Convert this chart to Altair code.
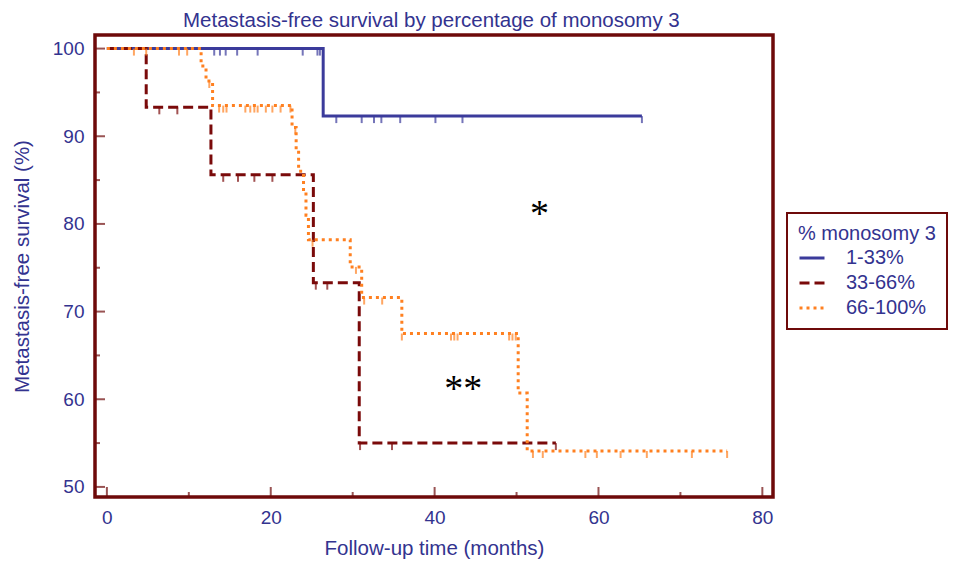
import altair as alt
import pandas as pd

# ---------------- data ----------------
GROUPS = ["1-33%", "33-66%", "66-100%"]
COLORS = ["#3b3b9b", "#7a0a0a", "#ff8020"]
DASHES = [[1, 0], [10, 5], [3, 4]]

# Kaplan-Meier step curves (time in months, survival %)
blue_t = [0, 26.4, 65.3]
blue_s = [100, 92.3, 92.3]
maroon_t = [0, 4.8, 12.7, 25.2, 30.8, 54.8]
maroon_s = [100, 93.3, 85.6, 73.3, 55.0, 55.0]
orange_t = [0, 11.5, 12.1, 12.9, 22.6, 23.1, 23.4, 24.0, 24.3, 24.6, 29.7, 31.1, 36.0, 50.2, 51.3, 75.7]
orange_s = [100, 98.0, 96.3, 93.5, 91.0, 88.5, 86.0, 83.6, 81.0, 78.2, 75.1, 71.6, 67.5, 60.7, 54.1, 54.1]

# censored observations
blue_ct = [13.1, 13.8, 14.5, 15.9, 18.4, 23.9, 25.7, 26.0,
           28.0, 31.1, 32.6, 33.5, 35.8, 40.1, 43.4, 65.3]
blue_cs = [100, 100, 100, 100, 100, 100, 100, 100,
           92.3, 92.3, 92.3, 92.3, 92.3, 92.3, 92.3, 92.3]
maroon_ct = [6.4, 8.6, 14.2, 16.0, 18.0, 20.2, 25.5, 26.9, 30.9, 34.8, 54.8]
maroon_cs = [93.3, 93.3, 85.6, 85.6, 85.6, 85.6, 73.3, 73.3, 55.0, 55.0, 55.0]
orange_ct = [3.3, 4.8, 8.8, 9.8, 12.5,
             13.7, 14.2, 14.6, 16.9, 17.5, 18.0, 18.4, 19.4, 20.2, 21.2, 22.4,
             23.0, 25.1, 30.4, 31.4, 33.6,
             36.0, 42.0, 42.4, 42.8, 49.1, 49.5, 49.9,
             52.0, 53.2, 58.4, 59.8, 62.7, 65.9, 71.4, 75.7]
orange_cs = [100, 100, 100, 100, 96.3,
             93.5, 93.5, 93.5, 93.5, 93.5, 93.5, 93.5, 93.5, 93.5, 93.5, 93.5,
             91.0, 78.2, 75.1, 71.6, 71.6,
             67.5, 67.5, 67.5, 67.5, 67.5, 67.5, 67.5,
             54.1, 54.1, 54.1, 54.1, 54.1, 54.1, 54.1, 54.1]

# annotations
note_text = ["*", "**"]
note_x = [52.8, 43.5]
note_y = [81.05, 61.05]

# axes
X_DOMAIN = [-1.45, 81.3]
Y_DOMAIN = [48.85, 101.55]
x_major = [0, 20, 40, 60, 80]
x_minor = [10, 30, 50, 70]
y_major = [50, 60, 70, 80, 90, 100]
y_minor = [55, 65, 75, 85, 95]

TITLE = "Metastasis-free survival by percentage of monosomy 3"
X_TITLE = "Follow-up time (months)"
Y_TITLE = "Metastasis-free survival (%)"
LEGEND_TITLE = "% monosomy 3"

NAVY = "#33338f"
FRAME = "#6e0a0a"
FONT = "Liberation Sans"

# ---------------- tables ----------------
rows = []
for g, ts, ss in zip(GROUPS, [blue_t, maroon_t, orange_t], [blue_s, maroon_s, orange_s]):
    for i, (t, s) in enumerate(zip(ts, ss)):
        rows.append({"group": g, "t": t, "s": s, "idx": i})
curves = pd.DataFrame(rows)

cens = [pd.DataFrame({"t": ct, "s": cs}) for ct, cs in
        [(blue_ct, blue_cs), (maroon_ct, maroon_cs), (orange_ct, orange_cs)]]

xs = alt.Scale(domain=X_DOMAIN, nice=False, zero=False)
ys = alt.Scale(domain=Y_DOMAIN, nice=False, zero=False)

legend = alt.Legend(
    title=LEGEND_TITLE, orient="none", legendX=692, legendY=178,
    symbolType="stroke", symbolSize=625, symbolStrokeWidth=3,
    labelOffset=20, rowPadding=1, padding=11, titlePadding=0,
    strokeColor=FRAME, fillColor="white",
)

lines = alt.Chart(curves).mark_line(interpolate="step-after", strokeWidth=3, clip=True).encode(
    x=alt.X("t:Q", scale=xs,
            axis=alt.Axis(values=x_major, title=X_TITLE, labelPadding=11, titlePadding=11)),
    y=alt.Y("s:Q", scale=ys,
            axis=alt.Axis(values=y_major, title=Y_TITLE, labelPadding=11, titlePadding=20)),
    color=alt.Color("group:N", scale=alt.Scale(domain=GROUPS, range=COLORS), legend=legend),
    strokeDash=alt.StrokeDash("group:N", scale=alt.Scale(domain=GROUPS, range=DASHES), legend=legend),
    order=alt.Order("idx:Q"),
)

layers = [lines]
for df, col in zip(cens, COLORS):
    layers.append(
        alt.Chart(df).mark_tick(orient="vertical", size=7, thickness=2, yOffset=3.5,
                                color=col, clip=True).encode(
            x="t:Q", y="s:Q")
    )

# inward axis ticks (outer half of each tick is clipped by the frame)
def xticks(vals, size):
    return alt.Chart(pd.DataFrame({"t": vals})).mark_tick(
        orient="vertical", size=size, thickness=2, color=FRAME, clip=True).encode(
        x="t:Q", y=alt.datum(Y_DOMAIN[0]))

def yticks(vals, size):
    return alt.Chart(pd.DataFrame({"s": vals})).mark_tick(
        orient="horizontal", size=size, thickness=2, color=FRAME, clip=True).encode(
        y="s:Q", x=alt.datum(X_DOMAIN[0]))

layers += [xticks(x_major, 20), xticks(x_minor, 10), yticks(y_major, 20), yticks(y_minor, 10)]

notes = alt.Chart(pd.DataFrame({"t": note_x, "s": note_y, "txt": note_text})).mark_text(
    font="Liberation Serif", fontSize=38, color="black", baseline="middle").encode(
    x="t:Q", y="s:Q", text="txt:N")
layers.append(notes)

chart = alt.layer(*layers).properties(
    width=678, height=462,
    autosize=alt.AutoSizeParams(type="none"),
    padding={"left": 87, "top": 27, "right": 179, "bottom": 64},
    title=alt.TitleParams(TITLE, anchor="start", frame="group", dx=88, offset=4,
                          fontSize=20.5, font=FONT, color=NAVY, fontWeight="normal"),
).configure_view(
    stroke=FRAME, strokeWidth=3.5
).configure_axis(
    labelFont=FONT, labelFontSize=19, labelColor=NAVY,
    titleFont=FONT, titleFontSize=20.5, titleColor=NAVY, titleFontWeight="normal",
    ticks=False, domain=False, grid=False,
).configure_legend(
    titleFont=FONT, titleFontSize=20, titleColor=NAVY, titleFontWeight="normal",
    labelFont=FONT, labelFontSize=20, labelColor=NAVY, strokeWidth=2,
)

chart.save("out.html", embed_options={"renderer": "svg", "actions": False})
